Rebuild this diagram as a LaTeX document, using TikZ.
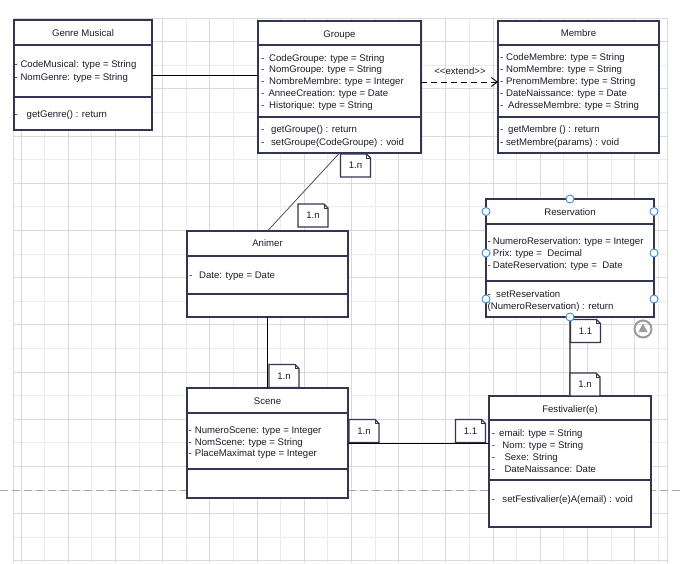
\documentclass[tikz,border=0pt]{standalone}
\usepackage{fontspec}
\setmainfont{Liberation Sans}
\usetikzlibrary{arrows.meta}
\definecolor{boxc}{RGB}{50,54,84}
\definecolor{txtc}{RGB}{28,28,44}
\definecolor{gridd}{RGB}{218,218,218}
\definecolor{gridl}{RGB}{236,236,236}
\definecolor{pagec}{RGB}{170,170,170}
\definecolor{handlec}{RGB}{60,140,235}
\definecolor{iconc}{RGB}{155,155,155}
\newcommand\dsh[1]{-\hspace{#1pt}}
\newcommand\txtlines[5]{\foreach \itm [count=\i] in {#5} {\node[txt, anchor=base west] (#1\i) at (#2, {#3+#4*(\i-1)}) {\itm};}}
\newcommand\classbox[7]{%
  \node[cls, anchor=north west, minimum width={#4-#2}, minimum height={#5-#3}] (#1) at (#2,#3) {};
  \draw[clsline] (#2,#6) -- (#4,#6);
  \draw[clsline] (#2,#7) -- (#4,#7);}
\newcommand\notebox[3]{%
  \node[notenode] (#1) at (#2) {#3};
  \draw[noteline] (#1.south west) -- (#1.north west) -- ([xshift=-4pt]#1.north east) -- ([yshift=-4pt]#1.north east) -- (#1.south east) -- cycle;
  \draw[noteline, line width=0.6pt] ([xshift=-4pt]#1.north east) -- ([xshift=-4pt,yshift=-4pt]#1.north east) -- ([yshift=-4pt]#1.north east);}
\begin{document}
\begin{tikzpicture}[x=1pt, y=-1pt,
  txt/.style={font=\fontsize{9.6}{11}\selectfont, inner sep=0, text=txtc},
  cls/.style={draw=boxc, fill=white, line width=1.2pt, inner sep=0, outer sep=0},
  clsline/.style={draw=boxc, line width=1.2pt},
  notenode/.style={fill=white, minimum width=30, minimum height=23, inner sep=0, outer sep=0, font=\fontsize{9.6}{11}\selectfont, text=txtc},
  noteline/.style={draw=boxc, line width=1.2pt, line join=miter},
  handle/.style={circle, draw=handlec, fill=white, minimum size=8, inner sep=0, line width=0.9pt},
  conn/.style={draw=black, line width=0.9pt}]
\useasboundingbox (0,0) rectangle (682,563);
\fill[white] (0,0) rectangle (682,563);
% grid
\foreach \j in {0,...,13} {\draw[gridl, line width=1pt] ({44.6+47.2*\j},18) -- ({44.6+47.2*\j},563);}
\foreach \j in {1,...,11} {\draw[gridl, line width=1pt] (13,{18+47.2*\j}) -- (667,{18+47.2*\j});}
\foreach \j in {0,...,13} {\draw[gridd, line width=1pt] ({21+47.2*\j},18) -- ({21+47.2*\j},563);}
\foreach \j in {-2,...,9} {\draw[gridd, line width=1pt] (13,{136+47.2*\j}) -- (667,{136+47.2*\j});}
\draw[gridd, line width=1pt] (13,563) -- (13,18) -- (667,18) -- (667,563);
% page break
\draw[pagec, line width=1pt, dash pattern=on 8pt off 4pt] (0,490) -- (682,490);
% class boxes
\classbox{genre}{14}{20}{152}{130}{45}{97}
\classbox{groupe}{258}{21}{421}{153}{45}{117}
\classbox{membre}{498}{21}{659}{153}{45}{117}
\classbox{animer}{187}{231}{348}{317}{256}{294}
\classbox{scene}{187}{388}{348}{498}{413}{469}
\classbox{fest}{489}{396}{651}{527}{420}{480}
\classbox{res}{486}{199}{654}{317}{224}{281}
% connectors
\draw[conn] (genre.east) -- (genre.east -| groupe.west);
\draw[conn, dash pattern=on 6pt off 4pt, -{Straight Barb[length=6pt,width=9pt]}] ([yshift=5pt]groupe.east) -- ([yshift=5pt]groupe.east -| membre.west);
\draw[conn, draw=black!75, line width=0.7pt] (groupe.south) -- (animer.north);
\draw[conn] (animer.south) -- (scene.north);
\draw[conn] (scene.east) -- (scene.east -| fest.west);
\draw[conn, draw=black!55, line width=1.1pt] (res.south) -- (res.south |- fest.north);
% titles
\node[txt, anchor=base] (genreT) at (83,36.8) {Genre Musical};
\node[txt, anchor=base] (groupeT) at (339.5,37.3) {Groupe};
\node[txt, anchor=base] (membreT) at (578.5,36.8) {Membre};
\node[txt, anchor=base] (animerT) at (267.5,246.8) {Animer};
\node[txt, anchor=base] (sceneT) at (267.5,404.5) {Scene};
\node[txt, anchor=base] (festT) at (570,412.5) {Festivalier(e)};
\node[txt, anchor=base] (resT) at (570,215.2) {Reservation};
% attributes and methods
\txtlines{ga}{14.5}{67.8}{12.4}{- CodeMusical: type = String, - NomGenre: type = String}
\txtlines{gm}{14.5}{117.5}{12}{\dsh{8.8}getGenre() : return}
\txtlines{pa}{261}{61}{11.8}{\dsh{4.8}CodeGroupe: type = String, \dsh{4.8}NomGroupe: type = String, \dsh{4.8}NombreMembre: type = Integer, \dsh{4.1}AnneeCreation: type = Date, \dsh{4.8}Historique: type = String}
\txtlines{pm}{261}{132.6}{13}{\dsh{6.8}getGroupe() : return, \dsh{6.8}setGroupe(CodeGroupe) : void}
\txtlines{ma}{500}{60.4}{11.9}{\dsh{2.8}CodeMembre: type = String, \dsh{2.8}NomMembre: type = String, \dsh{2.8}PrenomMembre: type = String, \dsh{2.8}DateNaissance: type = Date, \dsh{4.8}AdresseMembre: type = String}
\txtlines{mm}{500}{132}{13}{\dsh{4.8}getMembre () : return, \dsh{2.8}setMembre(params) : void}
\txtlines{aa}{189}{278.5}{12}{\dsh{6.8}Date: type = Date}
\txtlines{sa}{188.5}{433.5}{11.7}{\dsh{3}NumeroScene: type = Integer, \dsh{3}NomScene: type = String, \dsh{3}PlaceMaximat type = Integer}
\txtlines{ra}{487.5}{244.3}{12.1}{\dsh{2}NumeroReservation: type = Integer, \dsh{2}Prix: type =~ Decimal, \dsh{2}DateReservation: type =~ Date}
\txtlines{rm}{487.5}{297.5}{12}{\dsh{5.3}setReservation, (NumeroReservation) : return}
\txtlines{fa}{491.7}{436}{12.2}{\dsh{4.1}email: type = String, \dsh{7.4}Nom: type = String, \dsh{9.4}Sexe: String, \dsh{9.4}DateNaissance: Date}
\txtlines{fm}{491.7}{502}{12}{\dsh{7.4}setFestivalier(e)A(email) : void}
% extend label
\node[txt, anchor=base] (extlbl) at (460,74.5) {{<}{<}extend{>}{>}};
% notes
\notebox{n1}{355.5,165.5}{1.n}
\notebox{n2}{313,215.5}{1.n}
\notebox{n3}{284,376}{1.n}
\notebox{n4}{364,431}{1.n}
\notebox{n5}{470.5,431}{1.1}
\notebox{n6}{585.5,331}{1.1}
\notebox{n7}{585,384.5}{1.n}
% selection handles
\node[handle] (h1) at (570,199) {};
\node[handle] (h2) at (486,211.5) {};
\node[handle] (h3) at (654,211.5) {};
\node[handle] (h4) at (486,253) {};
\node[handle] (h5) at (654,253) {};
\node[handle] (h6) at (486,299) {};
\node[handle] (h7) at (654,299) {};
\node[handle] (h8) at (570,317) {};
% icon
\node[circle, draw=iconc, line width=2pt, minimum size=17, inner sep=0] (icon) at (643,329) {};
\fill[iconc] (638.5,332) -- (647.5,332) -- (643,323.5) -- cycle;
\end{tikzpicture}
\end{document}
